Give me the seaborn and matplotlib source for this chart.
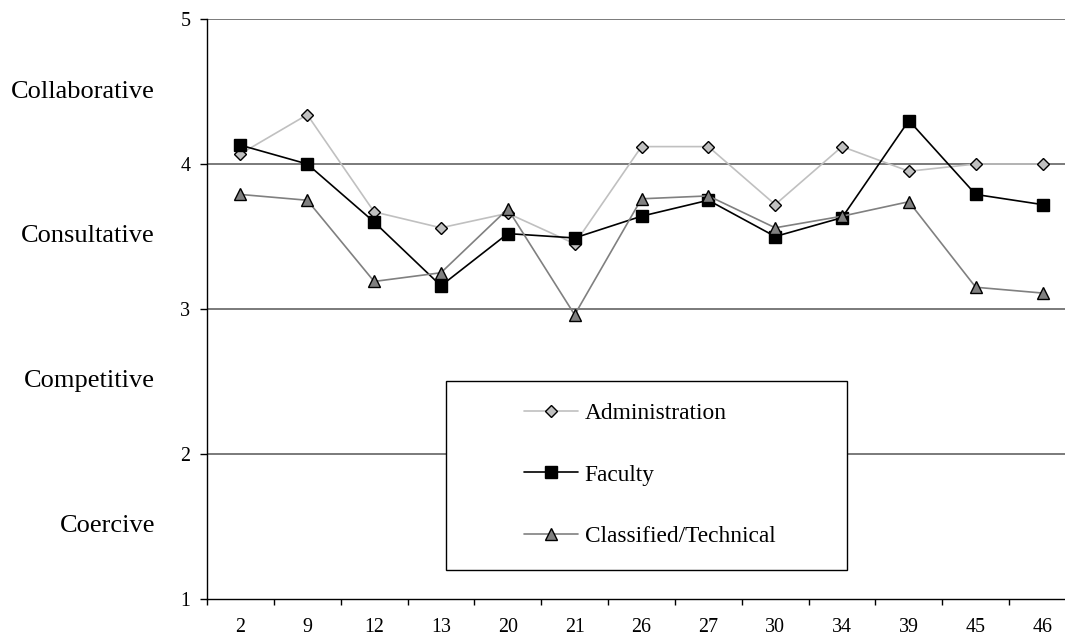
import matplotlib
matplotlib.use("Agg")
import matplotlib.pyplot as plt
import matplotlib.transforms as mtransforms
from matplotlib.patches import Rectangle
import numpy as np
import pandas as pd
import seaborn as sns

# Item numbers along the x axis
items = ["2", "9", "12", "13", "20", "21", "26", "27", "30", "34", "39", "45", "46"]

# Mean ratings per group for each item
administration = [4.07, 4.34, 3.67, 3.56, 3.66, 3.45, 4.12, 4.12, 3.72, 4.12, 3.95, 4.00, 4.00]
faculty = [4.13, 4.00, 3.60, 3.16, 3.52, 3.49, 3.64, 3.75, 3.50, 3.63, 4.30, 3.79, 3.72]
classified = [3.79, 3.75, 3.19, 3.25, 3.69, 2.96, 3.76, 3.78, 3.56, 3.64, 3.74, 3.15, 3.11]

groups = ["Administration", "Faculty", "Classified/Technical"]
style_names = ["Collaborative", "Consultative", "Competitive", "Coercive"]
style_levels = [4.5, 3.5, 2.5, 1.5]
y_ticks = [1, 2, 3, 4, 5]

sns.set_style("white")
plt.rcParams["font.family"] = ["Liberation Serif", "DejaVu Serif"]
plt.rcParams["text.color"] = "black"
plt.rcParams["xtick.color"] = "black"
plt.rcParams["ytick.color"] = "black"
plt.rcParams["xtick.labelcolor"] = "black"
plt.rcParams["ytick.labelcolor"] = "black"

df = pd.DataFrame({
    "pos": list(range(len(items))) * 3,
    "score": administration + faculty + classified,
    "group": [groups[0]] * len(items) + [groups[1]] * len(items) + [groups[2]] * len(items),
})

W, H = 1065, 641
fig = plt.figure(figsize=(W / 100, H / 100), dpi=100)
ax = fig.add_axes([207 / W, (H - 599) / H, (1076 - 207) / W, (599 - 19) / H])

palette = {"Administration": "#c0c0c0", "Faculty": "#000000", "Classified/Technical": "#808080"}
markers = {"Administration": "D", "Faculty": "s", "Classified/Technical": "^"}
sizes = {"Administration": 6.5, "Faculty": 8, "Classified/Technical": 9}

for g in groups:
    sub = df[df["group"] == g]
    sns.lineplot(data=sub, x="pos", y="score", ax=ax, color=palette[g],
                 marker=markers[g], markersize=sizes[g], markerfacecolor=palette[g],
                 markeredgecolor="black", markeredgewidth=1.0, linewidth=1.2,
                 label=g, legend=False, zorder=3, clip_on=False)

ax.set_xlim(-0.5, len(items) - 0.5)
ax.set_ylim(1, 5)
ax.set_xlabel("")
ax.set_ylabel("")

# Horizontal reference lines
for y in [2, 3, 4, 5]:
    ax.axhline(y, color="#707070", linewidth=1.3, zorder=1)

for side in ["top", "right"]:
    ax.spines[side].set_visible(False)
for side in ["left", "bottom"]:
    ax.spines[side].set_color("black")
    ax.spines[side].set_linewidth(1.0)

# Tick marks between categories, labels centred on categories
ax.set_xticks(np.arange(-0.5, len(items), 1.0))
ax.set_xticklabels([])
ax.set_xticks(np.arange(len(items)), minor=True)
ax.set_xticklabels(items, minor=True, fontsize=14.4)
ax.tick_params(axis="x", which="major", direction="out", length=4, width=1, color="black", bottom=True)
ax.tick_params(axis="x", which="minor", length=0, pad=14)

ax.set_yticks(y_ticks)
ax.set_yticklabels([str(v) for v in y_ticks], fontsize=14.4)
ax.tick_params(axis="y", direction="out", length=5, width=1, color="black", pad=7, left=True)

# Style names next to the rating scale
trans = mtransforms.blended_transform_factory(fig.transFigure, ax.transData)
for name, lvl in zip(style_names, style_levels):
    ax.text(155 / W, lvl, name, transform=trans, ha="right", va="center",
            fontsize=19, color="black", clip_on=False)

# Legend box
box = Rectangle((446 / W, (H - 570) / H), (847 - 446) / W, (570 - 381) / H,
                transform=fig.transFigure, facecolor="white", edgecolor="black",
                linewidth=1.0, zorder=2)
fig.add_artist(box)

handles, labels = ax.get_legend_handles_labels()
leg = fig.legend(handles, labels, loc="center", bbox_to_anchor=(649.5 / W, (H - 475) / H),
                 frameon=False, fontsize=16.8, handlelength=2.3, handletextpad=0.3,
                 labelspacing=1.72, borderpad=0, labelcolor="black")
leg.set_zorder(5)

fig.savefig("out.png", dpi=100)
